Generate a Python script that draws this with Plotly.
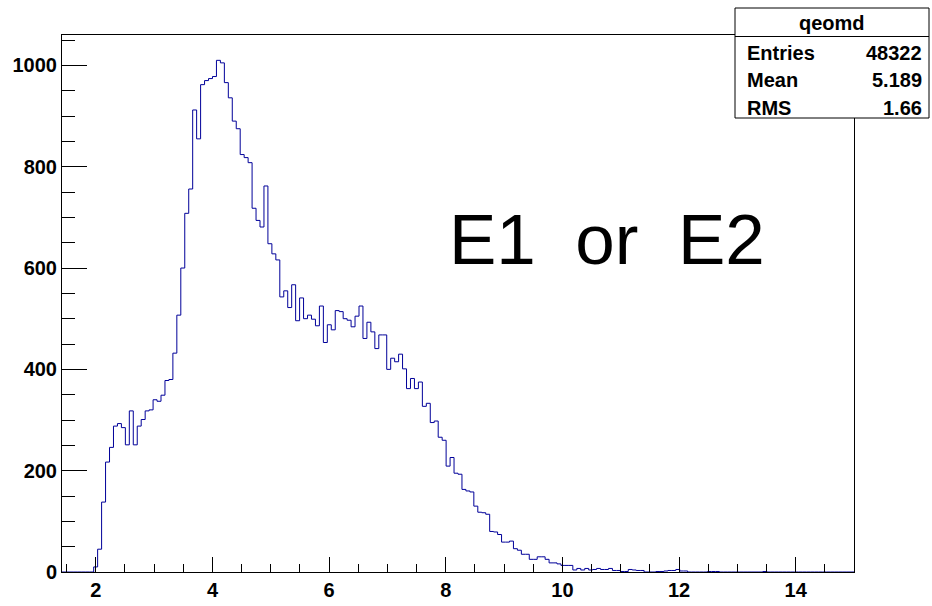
import plotly.graph_objects as go

# ---------------- data ----------------
HIST_NAME = "qeomd"
XMIN, XMAX, NBINS = 1.42, 15.0, 200
COUNTS = (
    [0] * 8
    + [10, 45, 138, 217, 246, 288, 293, 285, 251, 318, 251, 288, 301, 318, 320, 340,
       337, 349, 378, 380, 432, 507, 600, 708, 756]
    + [912, 855, 962, 970, 974, 978, 1010, 1005, 966, 936, 890, 875, 824, 818, 808,
       718, 694, 681, 762, 648, 628, 616]
    + [543, 555, 522, 567, 496, 541, 500, 507, 499, 486, 525, 453, 488, 478, 516,
       514, 500, 497, 484, 505, 525, 461, 493, 474, 441, 468, 468]
    + [400, 422, 415, 430, 401, 362, 382, 362, 375, 327, 333, 295, 298, 266, 260,
       209, 226, 195, 193, 163, 160, 158, 130, 118, 117, 114, 80, 79, 74]
    + [59, 59, 61, 46, 43, 35, 35, 25, 25, 30, 30, 25, 18, 18, 16, 13, 13, 13,
       4, 7, 4, 7, 4, 5, 7, 5, 5, 7, 3, 3, 1, 1, 5, 4, 3, 3, 0, 0, 0,
       1, 1, 2, 3, 3, 5, 2, 2, 0, 0, 0, 0, 0, 1, 1, 1]
)
COUNTS = COUNTS + [0] * (NBINS - len(COUNTS))
COUNTS[177] = 1
STAT_LABELS = ["Entries", "Mean", "RMS"]
STAT_VALUES = ["48322", "5.189", "1.66"]
BIG_TEXT = "E1  or  E2"
Y_MAX = 1060

# ---------------- figure ----------------
W, H = 932, 606
L, R, T, B = 62, 78, 35, 34
PW, PH = W - L - R, H - T - B


def px(x):
    return (x - L) / PW


def py(y):
    return (H - B - y) / PH


dx = (XMAX - XMIN) / NBINS
edges = [XMIN + i * dx for i in range(NBINS + 1)]
ys = COUNTS + [COUNTS[-1]]

fig = go.Figure()
fig.add_trace(go.Scatter(
    x=edges, y=ys, mode="lines", line=dict(color="#000099", width=1, shape="hv"),
    hoverinfo="skip", showlegend=False,
))

tickfont = dict(family="Liberation Sans, Arial, sans-serif", size=20, color="black", weight="bold")

fig.update_layout(
    width=W, height=H,
    margin=dict(l=L, r=R, t=T, b=B, autoexpand=False),
    paper_bgcolor="white", plot_bgcolor="white",
    showlegend=False,
    xaxis=dict(
        range=[XMIN, XMAX], showgrid=False, zeroline=False, automargin=False,
        showline=True, linecolor="black", linewidth=1, mirror=True,
        ticks="inside", ticklen=15, tickcolor="black", tickwidth=1,
        tick0=0, dtick=2, tickfont=tickfont,
        minor=dict(ticks="inside", ticklen=8, tickcolor="black", dtick=0.5, tick0=0, showgrid=False),
    ),
    yaxis=dict(
        range=[0, Y_MAX], showgrid=False, zeroline=False, automargin=False,
        showline=True, linecolor="black", linewidth=1, mirror=True,
        ticks="inside", ticklen=25, tickcolor="black", tickwidth=1,
        tick0=0, dtick=200, tickfont=tickfont,
        minor=dict(ticks="inside", ticklen=13, tickcolor="black", dtick=50, tick0=0, showgrid=False),
    ),
)

# stats box
bx0, bx1, by_top, by_bot, by_sep = 735, 929, 8, 118, 36.5
fig.add_shape(type="rect", xref="paper", yref="paper",
              x0=px(bx0), x1=px(bx1), y0=py(by_bot), y1=py(by_top),
              line=dict(color="black", width=1), fillcolor="white", layer="above")
fig.add_shape(type="line", xref="paper", yref="paper",
              x0=px(bx0), x1=px(bx1), y0=py(by_sep), y1=py(by_sep),
              line=dict(color="black", width=1), layer="above")

statfont = dict(family="Liberation Sans, Arial, sans-serif", size=20, color="black", weight="bold")
fig.add_annotation(text=HIST_NAME, xref="paper", yref="paper", x=px(832), y=py(23),
                   xanchor="center", yanchor="middle", showarrow=False, font=statfont)
for i, (lab, val) in enumerate(zip(STAT_LABELS, STAT_VALUES)):
    yc = 52.5 + i * 27.5
    fig.add_annotation(text=lab, xref="paper", yref="paper", x=px(745), y=py(yc),
                       xanchor="left", yanchor="middle", showarrow=False, font=statfont)
    fig.add_annotation(text=val, xref="paper", yref="paper", x=px(924), y=py(yc),
                       xanchor="right", yanchor="middle", showarrow=False, font=statfont)

fig.add_annotation(text=BIG_TEXT.replace(" ", "&nbsp;"), xref="paper", yref="paper",
                   x=px(606.5), y=py(239), xanchor="center", yanchor="middle", showarrow=False,
                   font=dict(family="Liberation Sans, Arial, sans-serif", size=71, color="black"))

fig.write_html("out.html", config={"displayModeBar": False},
               post_script="document.body.style.margin='0px';")
